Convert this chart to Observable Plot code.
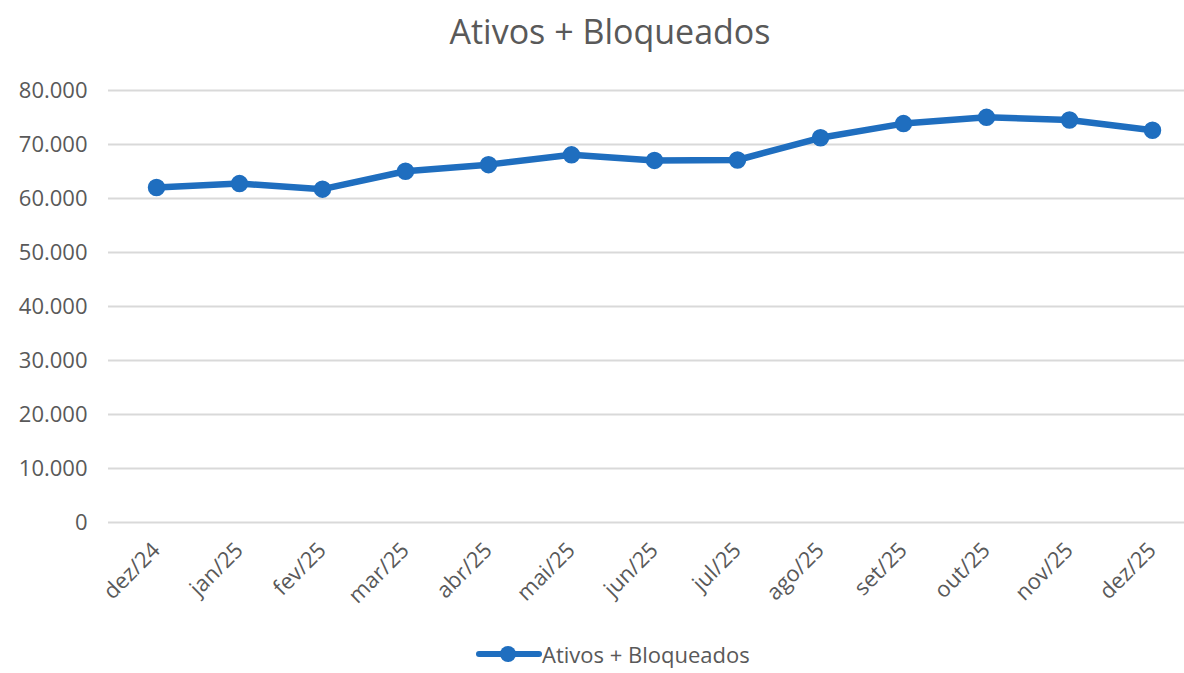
<!DOCTYPE html>
<html>
<head>
<meta charset="utf-8">
<script src="https://cdn.jsdelivr.net/npm/d3@7"></script>
<script src="https://cdn.jsdelivr.net/npm/@observablehq/plot@0.6"></script>
<style>
  html, body { margin: 0; padding: 0; background: #fff; width: 1184px; height: 673px; overflow: hidden; }
  #title { position: absolute; left: 0; top: 8px; width: 1220px; text-align: center; font-family: "Open Sans", sans-serif; font-size: 34px; color: #595959; line-height: 46px; }
  #chart { position: absolute; left: 0; top: 60px; }
  #legend { position: absolute; left: 476px; top: 640px; font-family: "Open Sans", sans-serif; font-size: 22px; line-height: 28px; color: #595959; display: flex; align-items: center; }
</style>
</head>
<body>
<div id="title">Ativos + Bloqueados</div>
<div id="chart"></div>
<div id="legend"></div>
<script>
const months = ["dez/24","jan/25","fev/25","mar/25","abr/25","mai/25","jun/25","jul/25","ago/25","set/25","out/25","nov/25","dez/25"];
const values = [62040, 62760, 61730, 65050, 66270, 68090, 67050, 67130, 71240, 73870, 75030, 74530, 72640];
const yTicks = [0, 10000, 20000, 30000, 40000, 50000, 60000, 70000, 80000];
const seriesName = "Ativos + Bloqueados";

const data = months.map((m, i) => ({month: m, value: values[i]}));
const fmt = d3.formatLocale({decimal: ",", thousands: ".", grouping: [3], currency: ["", ""]}).format(",d");
const blue = "#1F6EBF";
const gray = "#595959";

const chart = Plot.plot({
  width: 1184,
  height: 560,
  marginLeft: 108,
  marginRight: 0,
  marginTop: 30,
  marginBottom: 98,
  style: {fontFamily: "Open Sans, sans-serif", fontSize: "22px", color: gray, background: "#fff"},
  x: {type: "point", domain: months, range: [151, 1156], padding: 0, label: null, tickSize: 0, tickRotate: -45, tickPadding: 24},
  y: {domain: [0, 80000], ticks: yTicks, tickFormat: fmt, label: null, tickSize: 0, tickPadding: 21},
  marks: [
    Plot.ruleY(yTicks, {stroke: "#d9d9d9", strokeWidth: 2}),
    Plot.line(data, {x: "month", y: "value", stroke: blue, strokeWidth: 6.5, strokeLinejoin: "round", strokeLinecap: "round"}),
    Plot.dot(data, {x: "month", y: "value", r: 8, fill: blue, stroke: blue})
  ]
});
document.getElementById("chart").appendChild(chart);

// legend
const leg = document.getElementById("legend");
const svgNS = "http://www.w3.org/2000/svg";
const ls = document.createElementNS(svgNS, "svg");
ls.setAttribute("width", 66); ls.setAttribute("height", 28);
const ln = document.createElementNS(svgNS, "line");
ln.setAttribute("x1", 3); ln.setAttribute("x2", 63); ln.setAttribute("y1", 14); ln.setAttribute("y2", 14);
ln.setAttribute("stroke", blue); ln.setAttribute("stroke-width", 6); ln.setAttribute("stroke-linecap", "round");
const cc = document.createElementNS(svgNS, "circle");
cc.setAttribute("cx", 32); cc.setAttribute("cy", 14); cc.setAttribute("r", 8); cc.setAttribute("fill", blue);
ls.appendChild(ln); ls.appendChild(cc);
leg.appendChild(ls);
const sp = document.createElement("span");
sp.textContent = seriesName;
leg.appendChild(sp);
</script>
</body>
</html>
